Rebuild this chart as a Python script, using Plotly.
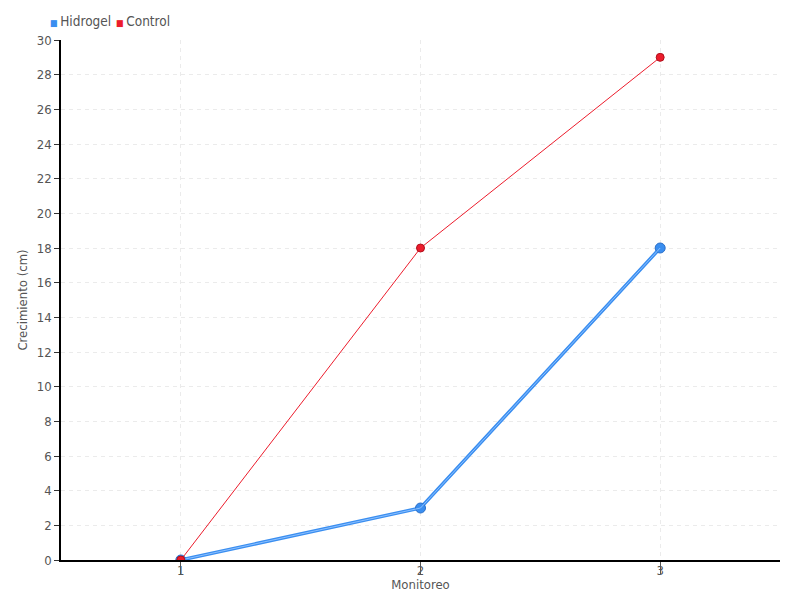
import plotly.graph_objects as go

monitoreo = [1, 2, 3]
hidrogel = [0, 3, 18]
control = [0, 18, 29]
series_names = ["Hidrogel", "Control"]

FONT = "DejaVu Sans Condensed"
BLUE = "#3a8ef0"
RED = "#ec1c2c"

fig = go.Figure()

# Hidrogel: thick line with a lighter core
fig.add_trace(go.Scatter(
    x=monitoreo, y=hidrogel, mode="lines+markers", name=series_names[0], showlegend=False,
    line=dict(color=BLUE, width=3.5),
    marker=dict(size=10, color=BLUE, line=dict(color="#2a6fc9", width=1)),
))
fig.add_trace(go.Scatter(
    x=monitoreo, y=hidrogel, mode="lines", showlegend=False,
    line=dict(color="#8cc0ff", width=1), hoverinfo="skip",
))
fig.add_trace(go.Scatter(
    x=monitoreo, y=control, mode="lines+markers", name=series_names[1], showlegend=False,
    line=dict(color=RED, width=1),
    marker=dict(size=8, color=RED, line=dict(color="#b0101c", width=1)),
))

# compact legend at top-left: coloured square + label
legend_x = [-0.0175, 0.0735]
for name, col, lx in zip(series_names, [BLUE, RED], legend_x):
    fig.add_annotation(
        xref="paper", yref="paper", x=lx, y=1 + 19 / 520,
        xanchor="left", yanchor="middle", showarrow=False,
        text=f"<span style='color:{col};font-size:9px'>■ </span>{name}",
        font=dict(size=13.5, color="#555555"),
    )

grid = dict(showgrid=True, gridcolor="#ebebeb", griddash="4px,4px", gridwidth=1.2)

# page body has an 8px margin, so the figure is shrunk and offset by it
fig.update_layout(
    width=784, height=584,
    margin=dict(l=53, r=12, t=32, b=32, autoexpand=False),
    plot_bgcolor="white", paper_bgcolor="white",
    font=dict(family=FONT, size=12, color="#555555"),
    showlegend=False,
    xaxis=dict(range=[0.5, 3.5], tickvals=monitoreo, ticktext=[str(v) for v in monitoreo],
               ticks="outside", ticklen=12, tickcolor="#555", showline=True,
               linecolor="black", linewidth=1.5, zeroline=False, automargin=False,
               ticklabelstandoff=-14, tickfont=dict(size=13),
               title=dict(text="Monitoreo", standoff=0, font=dict(size=13)), **grid),
    yaxis=dict(range=[0, 30], dtick=2, ticks="outside", ticklen=5, tickcolor="#333",
               showline=True, linecolor="black", linewidth=1.5, zeroline=False,
               automargin=False, tickfont=dict(size=13),
               title=dict(text="Crecimiento (cm)", standoff=6, font=dict(size=13)), **grid),
)

fig.write_html("out.html")
